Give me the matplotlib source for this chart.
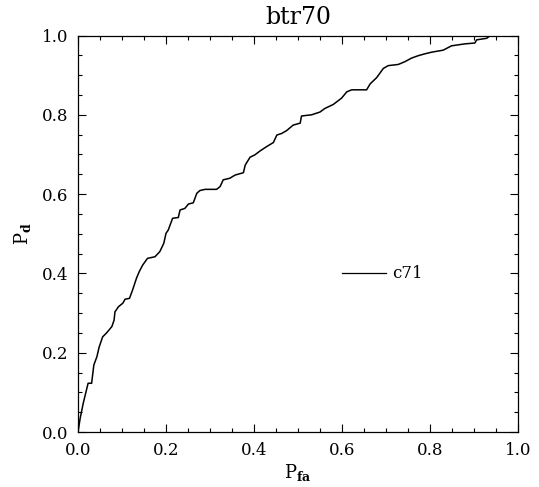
import matplotlib
matplotlib.use("Agg")
import matplotlib.pyplot as plt
from matplotlib.ticker import MultipleLocator

# ROC curve
p_fa = [0.000, 0.005, 0.012, 0.021, 0.023, 0.031, 0.036, 0.043, 0.048, 0.056,
        0.065, 0.077, 0.082, 0.084, 0.092, 0.102, 0.107, 0.117, 0.124, 0.133,
        0.139, 0.147, 0.158, 0.175, 0.186, 0.195, 0.200, 0.205, 0.215, 0.228,
        0.232, 0.243, 0.251, 0.262, 0.270, 0.277, 0.289, 0.315, 0.323, 0.330,
        0.345, 0.357, 0.376, 0.380, 0.391, 0.402, 0.414, 0.429, 0.444, 0.452,
        0.463, 0.474, 0.489, 0.505, 0.508, 0.531, 0.550, 0.561, 0.580, 0.599,
        0.611, 0.622, 0.656, 0.664, 0.679, 0.694, 0.705, 0.728, 0.743, 0.758,
        0.773, 0.789, 0.804, 0.830, 0.849, 0.880, 0.902, 0.906, 0.929, 0.936,
        0.944, 1.000]
p_d = [0.000, 0.035, 0.073, 0.114, 0.123, 0.123, 0.169, 0.190, 0.214, 0.240,
       0.250, 0.266, 0.282, 0.303, 0.316, 0.325, 0.335, 0.337, 0.358, 0.388,
       0.404, 0.421, 0.438, 0.442, 0.455, 0.476, 0.501, 0.509, 0.539, 0.541,
       0.560, 0.564, 0.575, 0.578, 0.602, 0.609, 0.612, 0.612, 0.619, 0.636,
       0.640, 0.648, 0.654, 0.673, 0.693, 0.699, 0.709, 0.720, 0.730, 0.749,
       0.753, 0.760, 0.774, 0.779, 0.797, 0.800, 0.807, 0.816, 0.826, 0.842,
       0.858, 0.863, 0.863, 0.878, 0.894, 0.917, 0.924, 0.927, 0.934, 0.943,
       0.949, 0.954, 0.958, 0.963, 0.974, 0.979, 0.981, 0.989, 0.993, 0.999,
       1.000, 1.000]

legend_x = [0.6, 0.7]
legend_y = [0.4, 0.4]
legend_label = "c71"

plt.rcParams['font.family'] = ['DejaVu Serif']
plt.rcParams['mathtext.fontset'] = 'dejavuserif'

fig = plt.figure(figsize=(5.39, 4.87), dpi=100)
ax = fig.add_axes([0.1447, 0.1129, 0.8163, 0.8142])

ax.plot(p_fa, p_d, color='black', lw=1.1)
ax.plot(legend_x, legend_y, color='black', lw=0.9)
ax.text(0.713, 0.4, legend_label, fontsize=12, va='center', ha='left')

ax.set_xlim(0, 1)
ax.set_ylim(0, 1)
ax.xaxis.set_major_locator(MultipleLocator(0.2))
ax.xaxis.set_minor_locator(MultipleLocator(0.05))
ax.yaxis.set_major_locator(MultipleLocator(0.2))
ax.yaxis.set_minor_locator(MultipleLocator(0.05))
ax.xaxis.set_major_formatter(plt.FormatStrFormatter('%.1f'))
ax.yaxis.set_major_formatter(plt.FormatStrFormatter('%.1f'))
ax.tick_params(which='both', direction='in', top=True, right=True,
               labelsize=12, width=0.8)
ax.tick_params(which='major', length=6, pad=7)
ax.tick_params(which='minor', length=3)
for s in ax.spines.values():
    s.set_linewidth(0.9)

ax.set_title("btr70", fontsize=17, pad=8)
ax.set_xlabel(r"P$_{\mathbf{fa}}$", fontsize=13, labelpad=2)
ax.set_ylabel(r"P$_{\mathbf{d}}$", fontsize=13, labelpad=6)

fig.savefig("out.png", dpi=100)
